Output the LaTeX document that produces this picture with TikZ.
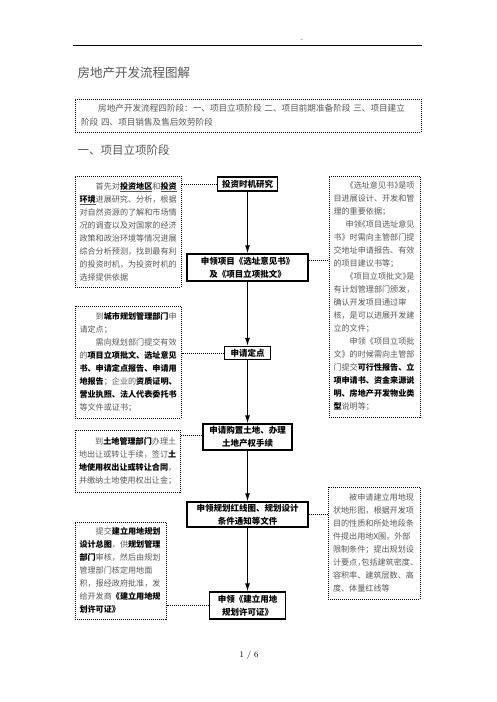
\documentclass[tikz,border=0pt]{standalone}
\usepackage{fontspec}
\newfontfamily\cjk{Noto Sans CJK SC}
\usetikzlibrary{arrows.meta}
\definecolor{bodygray}{gray}{0.35}
\newcommand\keyw[1]{\textbf{\color{black}#1}}
\newcommand\keyu[1]{\underline{\keyw{#1}}}

\begin{document}
\begin{tikzpicture}[x=1pt,y=-1pt,
  every node/.style={font=\cjk\fontsize{8.1}{13}\selectfont,text=bodygray},
  notebox/.style={draw=black,line width=1pt,dash pattern=on 1pt off 1pt,inner sep=0pt,align=left},
  stepbox/.style={draw=black,line width=1.4pt,inner sep=0pt,align=center,text=black,
    font=\cjk\bfseries\fontsize{8.5}{13}\selectfont},
  flow/.style={line width=1.1pt,-{Latex[length=8pt,width=5pt]}},
  link/.style={line width=1pt,dash pattern=on 1pt off 1pt}]

\useasboundingbox[fill=white] (0,0) rectangle (496,702);

\coordinate (rulel) at (73,45);
\coordinate (ruler) at (422,45);
\draw[line width=1pt] (rulel) -- (ruler);
\node (dot) at (302,40) {.};
\node[anchor=west,font=\cjk\fontsize{12.5}{14}\selectfont] (title) at (74,73) {房地产开发流程图解};

\node[notebox,minimum width=346pt,minimum height=33pt,text width=334pt,font=\cjk\fontsize{8.6}{14}\selectfont] (intro) at (248,115.5)
  {\hspace*{2em}房地产开发流程四阶段：一、项目立项阶段 二、项目前期准备阶段 三、项目建立\\阶段 四、项目销售及售后效劳阶段};

\node[anchor=west,font=\cjk\fontsize{11.5}{14}\selectfont] (stage) at (74,150) {一、项目立项阶段};

% main steps
\node[stepbox,minimum width=60pt,minimum height=14pt] (study) at (247.5,184) {投资时机研究};
\node[stepbox,minimum width=121pt,minimum height=27pt] (site) at (247.5,267.5) {申领项目《选址意见书》\\及《项目立项批文》};
\node[stepbox,minimum width=46pt,minimum height=13pt] (point) at (247.5,353) {申请定点};
\node[stepbox,minimum width=89pt,minimum height=26pt] (land) at (247.5,437) {申请购置土地、办理\\土地产权手续};
\node[stepbox,minimum width=121pt,minimum height=25pt] (redline) at (247.5,514.5) {申领规划红线图、规划设计\\条件通知等文件};
\node[stepbox,minimum width=76pt,minimum height=27pt] (permit) at (247.5,605.5) {申领《建立用地\\规划许可证》};

% notes
\node[notebox,minimum width=106pt,minimum height=111pt,text width=97pt] (studynote) at (128,231.5)
  {\hspace*{2em}首先对\keyu{投资地区}和\keyu{投资}\\
   \keyu{环境}进展研究、分析，根据\\
   对自然资源的了解和市场情\\
   况的调查以及对国家的经济\\
   政策和政治环境等情况进展\\
   综合分析预测，找到最有利\\
   的投资时机，为投资时机的\\
   选择提供依据};

\node[notebox,minimum width=91pt,minimum height=241pt,text width=82pt] (sitenote) at (374.5,296.5)
  {\hspace*{1.5em}《选址意见书》\kern-4pt是项\\
   目进展设计、开发和管\\
   理的重要依据；\\
   \hspace*{1.5em}申领\kern-4pt《项目选址意见\\
   书》时需向主管部门提\\
   交地址申请报告、有效\\
   的项目建议书等；\\
   \hspace*{1.5em}《项目立项批文》\kern-4pt是\\
   有计划管理部门颁发，\\
   确认开发项目通过审\\
   核，是可以进展开发建\\
   立的文件；\\
   \hspace*{2em}申领《项目立项批\\
   文》的时候需向主管部\\
   门提交\keyw{可行性报告、立}\\
   \keyw{项申请书、资金来源说}\\
   \keyw{明、房地产开发物业类}\\
   \keyw{型}说明等；};

\node[notebox,minimum width=106pt,minimum height=112pt,text width=97pt] (pointnote) at (128,362)
  {\hspace*{2em}到\keyw{城市规划管理部门}申\\
   请定点；\\
   \hspace*{2em}需向规划部门提交有效\\
   的\keyw{项目立项批文、选址意见}\\
   \keyw{书、申请定点报告、申请用}\\
   \keyw{地报告}；企业的\keyw{资质证明、}\\
   \keyw{营业执照、法人代表委托书}\\
   等文件或证书；};

\node[notebox,minimum width=105pt,minimum height=62pt,text width=97pt] (landnote) at (127.5,461)
  {\hspace*{2em}到\keyw{土地管理部门}办理土\\
   地出让或转让手续，签订\keyw{土}\\
   \keyw{地使用权出让或转让合同}，\\
   并缴纳土地使用权出让金；};

\node[notebox,minimum width=92pt,minimum height=112pt,text width=82pt] (redlinenote) at (374,543)
  {\hspace*{2em}被申请建立用地现\\
   状地形图，根据开发项\\
   目的性质和所处地段条\\
   件提出用地X围，外部\\
   限制条件；提出规划设\\
   计要点，\kern-4pt包括建筑密度、\\
   容积率、建筑层数、高\\
   度、体量红线等};

\node[notebox,minimum width=91pt,minimum height=97pt,text width=82pt] (permitnote) at (120.5,570.5)
  {\hspace*{2em}提交\keyw{建立用地规划}\\
   \keyw{设计总图}，供\keyw{规划管理}\\
   \keyw{部门}审核，然后由规划\\
   管理部门核定用地面\\
   积，报经政府批准，发\\
   给开发商\keyw{《建立用地规}\\
   \keyw{划许可证》}};

% connectors
\draw[flow] (study) -- (site);
\draw[flow] (site) -- (point);
\draw[flow] (point) -- (land);
\draw[flow] (land) -- (redline);
\draw[flow] (redline) -- (permit);

\draw[link] (study.west) -- (study.west -| studynote.east);
\draw[link] ([yshift=7pt]site.east) -- ([yshift=7pt]site.east -| sitenote.west);
\draw[link] (point.west) -- (point.west -| pointnote.east);
\draw[link] ([yshift=2pt]land.west) -- ([yshift=2pt]land.west -| landnote.east);
\draw[link] (redline.east) -- (redline.east -| redlinenote.west);
\draw[link] (permit.west) -- (permit.west -| permitnote.east);

\node[text=black,font=\rmfamily\fontsize{8.5}{10}\selectfont] (page) at (249,655) {1 / 6};

\end{tikzpicture}
\end{document}
